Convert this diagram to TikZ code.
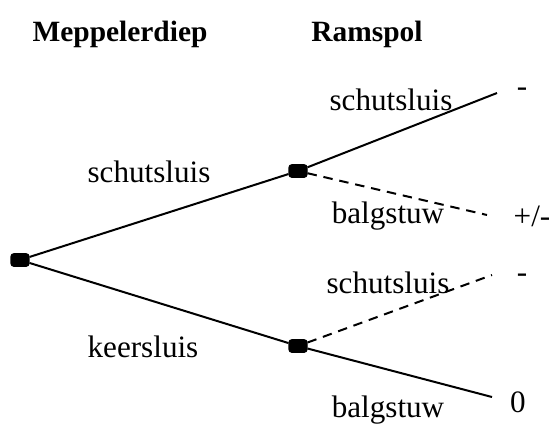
\documentclass[tikz,border=0pt]{standalone}
\usepackage{fontspec}
\setmainfont{Liberation Serif}
\usetikzlibrary{positioning}

\begin{document}
\begin{tikzpicture}[x=0.35pt,y=-0.35pt,
    knoop/.style={
        fill=black,
        draw=black,
        rounded corners=1pt,
        minimum width=6.3pt,
        minimum height=4.4pt,
        inner sep=0pt
    },
    tak/.style={
        black,
        line width=0.7pt
    },
    takAlt/.style={
        tak,
        dashed,
        dash pattern=on 3.3pt off 2.4pt
    },
    lbl/.style={
        font=\fontsize{10.9}{13}\selectfont,
        inner sep=0pt
    },
    kop/.style={
        font=\fontsize{10.3}{12}\selectfont\bfseries,
        inner sep=0pt
    }
]

\path[use as bounding box] (0,0) rectangle (555,425);

\node[kop] (meppel) at (120,34) {Meppelerdiep};
\node[kop] (ramspol) at (367,34) {Ramspol};

\node[knoop] (wortel) at (20,260) {};
\node[knoop] (boven) at (298,171) {};
\node[knoop] (onder) at (298,346) {};

\coordinate (eindA) at (497,93);
\coordinate (eindB) at (487,215);
\coordinate (eindC) at (492,275);
\coordinate (eindD) at (492,397);

\draw[tak] (wortel) -- (boven);
\draw[tak] (wortel) -- (onder);
\draw[tak] (boven) -- (eindA);
\draw[takAlt] (boven) -- (eindB);
\draw[takAlt] (onder) -- (eindC);
\draw[tak] (onder) -- (eindD);

\node[lbl] (schutBoven) at (149,172) {schutsluis};
\node[lbl] (keer) at (143,347) {keersluis};
\node[lbl] (schutA) at (391,100) {schutsluis};
\node[lbl] (balgB) at (388,216) {balgstuw};
\node[lbl] (schutC) at (388,283) {schutsluis};
\node[lbl] (balgD) at (388,410) {balgstuw};

\node[lbl] (uitA) at (522,92) {-};
\node[lbl] (uitB) at (532,216) {+/-};
\node[lbl] (uitC) at (522,278) {-};
\node[lbl] (uitD) at (518,402) {0};
\end{tikzpicture}
\end{document}
